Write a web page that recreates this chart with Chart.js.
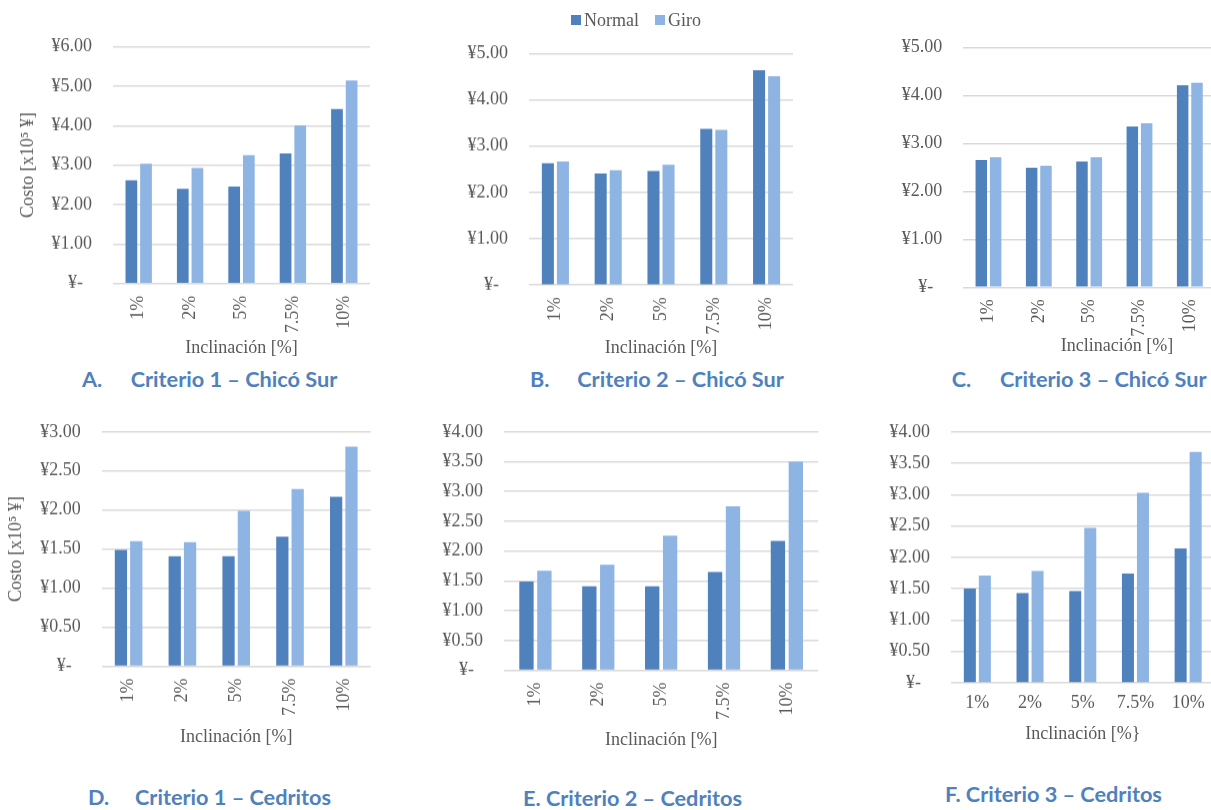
<!DOCTYPE html>
<html>
<head>
<meta charset="utf-8">
<script src="https://cdn.jsdelivr.net/npm/chart.js@4"></script>
<style>
  html, body { margin: 0; padding: 0; background: #fff; }
  body { position: relative; width: 1211px; height: 810px; overflow: hidden; }
  canvas { position: absolute; }
  .cap { position: absolute; font-family: Lato, "Open Sans", sans-serif; font-weight: bold;
         color: #4F81BD; font-size: 21.7px; line-height: 22px; white-space: pre; }
  .txt { position: absolute; font-family: "Liberation Serif", "Times New Roman", serif;
         color: #595959; font-size: 18px; line-height: 20px; white-space: nowrap; }
  .sw { position: absolute; width: 10px; height: 10px; }
</style>
</head>
<body>
<canvas id="chA"></canvas>
<canvas id="chB"></canvas>
<canvas id="chC"></canvas>
<canvas id="chD"></canvas>
<canvas id="chE"></canvas>
<canvas id="chF"></canvas>

<!-- shared legend -->
<div class="sw" style="left:571px;top:15px;background:#4F81BD"></div>
<div class="txt" style="left:584px;top:10px">Normal</div>
<div class="sw" style="left:655px;top:15px;background:#8DB4E2"></div>
<div class="txt" style="left:668px;top:10px">Giro</div>

<!-- axis title of panel C -->
<div class="txt" style="left:1117px;top:345px;transform:translate(-50%,-50%)">Inclinación [%]</div>

<!-- panel captions -->
<div class="cap" style="left:82px;top:368px">A.<span style="position:absolute;left:48.7px">Criterio 1 – Chicó Sur</span></div>
<div class="cap" style="left:530px;top:368px">B.<span style="position:absolute;left:47.3px">Criterio 2 – Chicó Sur</span></div>
<div class="cap" style="left:951.7px;top:368px">C.<span style="position:absolute;left:48.3px">Criterio 3 – Chicó Sur</span></div>
<div class="cap" style="left:88px;top:786px">D.<span style="position:absolute;left:47px">Criterio 1 – Cedritos</span></div>
<div class="cap" style="left:523px;top:787px">E. Criterio 2 – Cedritos</div>
<div class="cap" style="left:945px;top:783px">F. Criterio 3 – Cedritos</div>

<script>
// Slope categories shared by every panel
const categories = ['1%', '2%', '5%', '7.5%', '10%'];

// Cost values, x10^5 ¥
const normalA = [2.62, 2.40, 2.46, 3.30, 4.42];
const giroA   = [3.04, 2.93, 3.25, 4.01, 5.15];
const normalB = [2.63, 2.41, 2.46, 3.37, 4.64];
const giroB   = [2.67, 2.48, 2.60, 3.35, 4.51];
const normalC = [2.65, 2.49, 2.62, 3.35, 4.21];
const giroC   = [2.71, 2.53, 2.71, 3.42, 4.26];
const normalD = [1.49, 1.41, 1.41, 1.66, 2.17];
const giroD   = [1.60, 1.59, 1.99, 2.27, 2.81];
const normalE = [1.49, 1.41, 1.41, 1.65, 2.17];
const giroE   = [1.67, 1.77, 2.26, 2.75, 3.50];
const normalF = [1.50, 1.43, 1.46, 1.74, 2.14];
const giroF   = [1.71, 1.78, 2.47, 3.03, 3.68];

// Y-axis ranges
const yMaxTop = 6;        // panel A
const yMaxTopRest = 5;    // panels B, C
const yMaxBottomD = 3;
const yMaxBottomEF = 4;

const xTitle = 'Inclinación [%]';
const xTitleF = 'Inclinación [%}';
const yTitle = 'Costo [x10⁵ ¥]';

const NORMAL = '#4F81BD';
const GIRO = '#8DB4E2';
const TEXT = '#595959';
const GRID = '#D9D9D9';
const FONT = { family: '"Liberation Serif", "Times New Roman", serif', size: 18 };

function yen(v) {
  return v === 0 ? '¥-\u2002' : '¥' + Number(v).toFixed(2);
}

function panel(id, p) {
  const cv = document.getElementById(id);
  const W = p.canvasR - p.canvasL;
  const H = p.canvasB - p.canvasT;
  cv.width = W; cv.height = H;
  cv.style.left = p.canvasL + 'px';
  cv.style.top = p.canvasT + 'px';
  cv.style.width = W + 'px';
  cv.style.height = H + 'px';

  new Chart(cv, {
    type: 'bar',
    data: {
      labels: categories,
      datasets: [
        { label: 'Normal', data: p.normal, backgroundColor: NORMAL, borderWidth: 0 },
        { label: 'Giro', data: p.giro, backgroundColor: GIRO, borderWidth: 0 }
      ]
    },
    options: {
      responsive: false,
      animation: false,
      devicePixelRatio: 1,
      layout: { padding: { left: 0, top: p.plotT - p.canvasT, right: p.canvasR - p.plotR, bottom: 0 } },
      plugins: { legend: { display: false }, tooltip: { enabled: false } },
      datasets: { bar: { barPercentage: 0.8, categoryPercentage: 0.57 } },
      scales: {
        x: {
          grid: { display: false, drawTicks: false },
          border: { display: false },
          ticks: { autoSkip: false, minRotation: p.rot, maxRotation: p.rot,
                   padding: p.xPad, color: TEXT, font: FONT },
          title: { display: !!p.xTitle, text: p.xTitle, color: TEXT, font: FONT,
                   padding: { top: 0, bottom: 0 } },
          afterFit: s => { s.height = p.canvasB - p.plotB; }
        },
        y: {
          min: 0, max: p.max,
          grid: { color: GRID, lineWidth: 1.5, drawTicks: false },
          border: { display: false },
          ticks: { stepSize: p.step, padding: 21, color: TEXT, font: FONT, callback: yen },
          title: { display: !!p.yTitle, text: p.yTitle, color: TEXT, font: FONT,
                   padding: { top: p.yTitlePad || 0, bottom: 0 } },
          afterFit: s => { s.width = p.plotL - p.canvasL; }
        }
      }
    }
  });
}

panel('chA', { normal: normalA, giro: giroA, max: yMaxTop, step: 1, rot: 90, xPad: 12,
  canvasL: 0, canvasT: 0, canvasR: 395, canvasB: 358.8,
  plotL: 113, plotR: 370, plotT: 46.7, plotB: 283.5,
  xTitle: xTitle, yTitle: yTitle, yTitlePad: 17.2 });

panel('chB', { normal: normalB, giro: giroB, max: yMaxTopRest, step: 1, rot: 90, xPad: 12,
  canvasL: 455, canvasT: 0, canvasR: 805, canvasB: 358.8,
  plotL: 529, plotR: 793, plotT: 53.3, plotB: 285,
  xTitle: xTitle });

panel('chC', { normal: normalC, giro: giroC, max: yMaxTopRest, step: 1, rot: 90, xPad: 12,
  canvasL: 885, canvasT: 0, canvasR: 1225, canvasB: 345,
  plotL: 963.3, plotR: 1215, plotT: 47.3, plotB: 287.3 });

panel('chD', { normal: normalD, giro: giroD, max: yMaxBottomD, step: 0.5, rot: 90, xPad: 12,
  canvasL: 0, canvasT: 400, canvasR: 395, canvasB: 747.5,
  plotL: 101.7, plotR: 370.7, plotT: 425.7, plotB: 666,
  xTitle: xTitle, yTitle: yTitle, yTitlePad: 5.9 });

panel('chE', { normal: normalE, giro: giroE, max: yMaxBottomEF, step: 0.5, rot: 90, xPad: 12,
  canvasL: 430, canvasT: 400, canvasR: 826, canvasB: 750.8,
  plotL: 504, plotR: 818.3, plotT: 422, plotB: 670.3,
  xTitle: xTitle });

panel('chF', { normal: normalF, giro: giroF, max: yMaxBottomEF, step: 0.5, rot: 0, xPad: 10,
  canvasL: 875, canvasT: 400, canvasR: 1225, canvasB: 744.8,
  plotL: 951, plotR: 1214.5, plotT: 429, plotB: 682.7,
  xTitle: xTitleF });
</script>
</body>
</html>
